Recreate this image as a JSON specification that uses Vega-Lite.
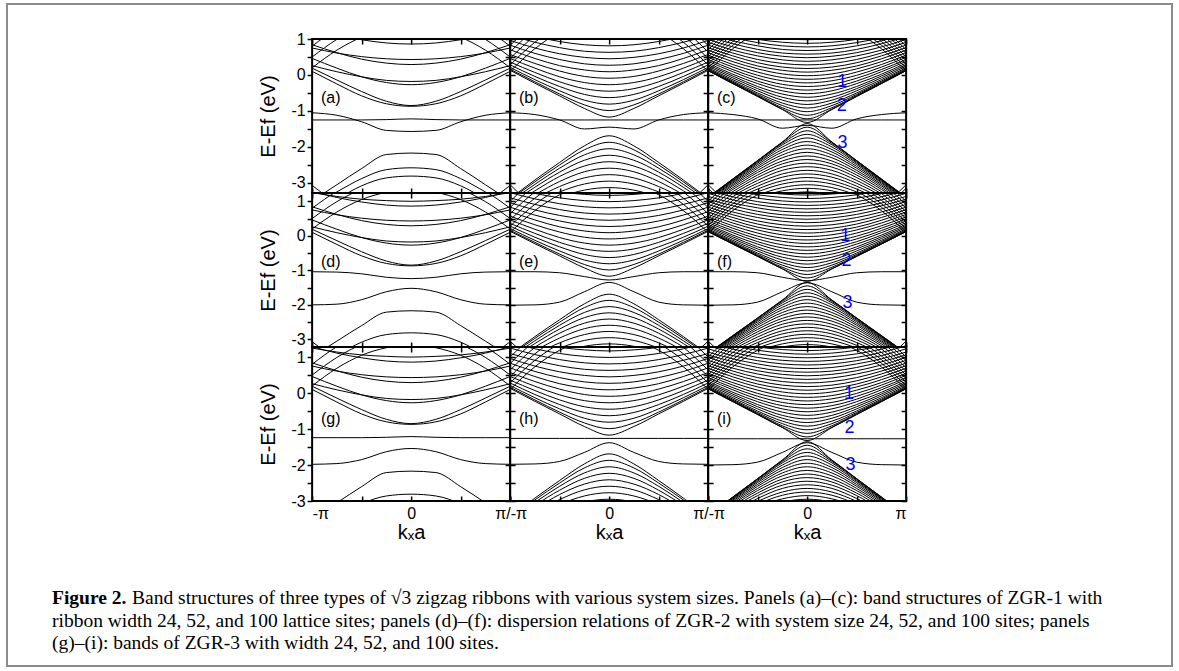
{
"$schema": "https://vega.github.io/schema/vega-lite/v6.json",
"background": "white",
"padding": {"left": 6, "top": 3, "right": 0, "bottom": 0},
"config": {
  "view": {"stroke": "black", "strokeWidth": 2},
  "axis": {"domain": false, "grid": false, "tickColor": "black", "tickWidth": 1.5, "labelFont": "Liberation Sans", "labelFontSize": 16, "labelColor": "black", "titleFont": "Liberation Sans", "titleFontSize": 20, "titleFontWeight": "normal", "titleColor": "black"}
},
"datasets": {
  "kg": [
    {"c": 1, "k": [-1, -0.75, -0.5, -0.25, 0, 0.25, 0.5, 0.75, 1]},
    {"c": 2, "k": [-1, -0.75, -0.5, -0.25, 0, 0.25, 0.5, 0.75, 1]},
    {"c": 3, "k": [-1, -0.75, -0.5, -0.25, 0, 0.25, 0.5, 0.75, 1]}
  ],
  "bands": [
    {"c":1,"i":101,"e":[0.19,-0.14,-0.46,-0.73,-0.85,-0.73,-0.46,-0.14,0.19]},
    {"c":1,"i":102,"e":[0.1,-0.25,-0.58,-0.8,-0.87,-0.8,-0.58,-0.25,0.1]},
    {"c":1,"i":103,"e":[0.46,0.19,-0.05,-0.21,-0.27,-0.21,-0.05,0.19,0.46]},
    {"c":1,"i":104,"e":[0.26,0.09,-0.05,-0.15,-0.18,-0.15,-0.05,0.09,0.26]},
    {"c":1,"i":105,"e":[0.84,0.62,0.44,0.33,0.29,0.33,0.44,0.62,0.84]},
    {"c":1,"i":106,"e":[0.75,0.61,0.51,0.45,0.43,0.45,0.51,0.61,0.75]},
    {"c":1,"i":107,"e":[1.29,1.11,0.98,0.89,0.86,0.89,0.98,1.11,1.29]},
    {"c":1,"i":108,"e":[1.25,1.14,1.06,1.02,1.0,1.02,1.06,1.14,1.25]},
    {"c":1,"i":111,"e":[0.2,0.69,1.05,1.26,1.33,1.26,1.05,0.69,0.2]},
    {"c":1,"i":112,"e":[0.5,0.99,1.35,1.56,1.63,1.56,1.35,0.99,0.5]},
    {"c":1,"i":113,"e":[0.8,1.29,1.65,1.86,1.93,1.86,1.65,1.29,0.8]},
    {"c":1,"i":121,"e":[-3.5,-3.05,-2.6,-2.21,-2.17,-2.21,-2.6,-3.05,-3.5]},
    {"c":1,"i":122,"e":[-3.85,-3.45,-3.08,-2.86,-2.81,-2.86,-3.08,-3.45,-3.85]},
    {"c":1,"i":131,"e":[-3.07,-3.56,-3.92,-4.13,-4.2,-4.13,-3.92,-3.56,-3.07]},
    {"c":1,"i":132,"e":[-3.32,-3.81,-4.17,-4.38,-4.45,-4.38,-4.17,-3.81,-3.32]},
    {"c":1,"r":1,"i":141,"e":[-3.65,-3.25,-2.88,-2.63,-2.58,-2.63,-2.88,-3.25,-3.65]},
    {"c":1,"r":1,"i":142,"e":[-1.25,-1.25,-1.25,-1.24,-1.22,-1.24,-1.25,-1.25,-1.25]},
    {"c":1,"r":1,"i":143,"e":[-1.05,-1.12,-1.3,-1.54,-1.57,-1.54,-1.3,-1.12,-1.05]},
    {"c":1,"r":2,"i":151,"e":[-1.04,-1.05,-1.1,-1.2,-1.24,-1.2,-1.1,-1.05,-1.04]},
    {"c":1,"r":2,"i":152,"e":[-2.0,-1.98,-1.85,-1.62,-1.52,-1.62,-1.85,-1.98,-2.0]},
    {"c":1,"r":3,"i":161,"e":[-1.24,-1.24,-1.24,-1.23,-1.21,-1.23,-1.24,-1.24,-1.24]},
    {"c":1,"r":3,"i":162,"e":[-1.98,-1.96,-1.85,-1.63,-1.54,-1.63,-1.85,-1.96,-1.98]},
    {"c":2,"i":201,"e":[0.13,-0.23,-0.58,-0.93,-1.17,-0.93,-0.58,-0.23,0.13]},
    {"c":2,"i":202,"e":[0.16,-0.19,-0.53,-0.83,-0.99,-0.83,-0.53,-0.19,0.16]},
    {"c":2,"i":203,"e":[0.21,-0.13,-0.44,-0.7,-0.81,-0.7,-0.44,-0.13,0.21]},
    {"c":2,"i":204,"e":[0.28,-0.04,-0.32,-0.54,-0.63,-0.54,-0.32,-0.04,0.28]},
    {"c":2,"i":205,"e":[0.36,0.07,-0.19,-0.38,-0.45,-0.38,-0.19,0.07,0.36]},
    {"c":2,"i":206,"e":[0.46,0.19,-0.05,-0.21,-0.27,-0.21,-0.05,0.19,0.46]},
    {"c":2,"i":207,"e":[0.57,0.32,0.11,-0.04,-0.09,-0.04,0.11,0.32,0.57]},
    {"c":2,"i":208,"e":[0.7,0.46,0.26,0.14,0.09,0.14,0.26,0.46,0.7]},
    {"c":2,"i":209,"e":[0.83,0.6,0.43,0.31,0.27,0.31,0.43,0.6,0.83]},
    {"c":2,"i":210,"e":[0.96,0.75,0.59,0.49,0.45,0.49,0.59,0.75,0.96]},
    {"c":2,"i":211,"e":[1.1,0.91,0.76,0.66,0.63,0.66,0.76,0.91,1.1]},
    {"c":2,"i":212,"e":[1.25,1.07,0.93,0.84,0.81,0.84,0.93,1.07,1.25]},
    {"c":2,"i":213,"e":[1.4,1.23,1.1,1.02,0.99,1.02,1.1,1.23,1.4]},
    {"c":2,"i":214,"e":[1.56,1.39,1.27,1.2,1.17,1.2,1.27,1.39,1.56]},
    {"c":2,"i":221,"e":[0.1,0.73,1.19,1.46,1.55,1.46,1.19,0.73,0.1]},
    {"c":2,"i":222,"e":[0.28,0.91,1.37,1.64,1.73,1.64,1.37,0.91,0.28]},
    {"c":2,"i":223,"e":[0.46,1.09,1.55,1.82,1.91,1.82,1.55,1.09,0.46]},
    {"c":2,"i":224,"e":[0.64,1.27,1.73,2.0,2.09,2.0,1.73,1.27,0.64]},
    {"c":2,"i":225,"e":[0.82,1.45,1.91,2.18,2.27,2.18,1.91,1.45,0.82]},
    {"c":2,"i":226,"e":[1.0,1.63,2.09,2.36,2.45,2.36,2.09,1.63,1.0]},
    {"c":2,"i":231,"e":[-3.43,-2.92,-2.43,-1.97,-1.69,-1.97,-2.43,-2.92,-3.43]},
    {"c":2,"i":232,"e":[-3.46,-2.97,-2.5,-2.08,-1.87,-2.08,-2.5,-2.97,-3.46]},
    {"c":2,"i":233,"e":[-3.52,-3.04,-2.59,-2.22,-2.05,-2.22,-2.59,-3.04,-3.52]},
    {"c":2,"i":234,"e":[-3.58,-3.12,-2.7,-2.37,-2.23,-2.37,-2.7,-3.12,-3.58]},
    {"c":2,"i":235,"e":[-3.66,-3.22,-2.82,-2.53,-2.41,-2.53,-2.82,-3.22,-3.66]},
    {"c":2,"i":236,"e":[-3.75,-3.33,-2.96,-2.69,-2.59,-2.69,-2.96,-3.33,-3.75]},
    {"c":2,"i":237,"e":[-3.84,-3.44,-3.1,-2.86,-2.77,-2.86,-3.1,-3.44,-3.84]},
    {"c":2,"i":238,"e":[-3.95,-3.57,-3.25,-3.03,-2.95,-3.03,-3.25,-3.57,-3.95]},
    {"c":2,"i":239,"e":[-4.07,-3.7,-3.4,-3.2,-3.13,-3.2,-3.4,-3.7,-4.07]},
    {"c":2,"i":241,"e":[-3.05,-3.68,-4.14,-4.41,-4.5,-4.41,-4.14,-3.68,-3.05]},
    {"c":2,"i":242,"e":[-3.23,-3.86,-4.32,-4.59,-4.68,-4.59,-4.32,-3.86,-3.23]},
    {"c":2,"r":1,"i":251,"e":[-1.25,-1.25,-1.25,-1.25,-1.25,-1.25,-1.25,-1.25,-1.25]},
    {"c":2,"r":1,"i":252,"e":[-1.05,-1.1,-1.25,-1.5,-1.45,-1.5,-1.25,-1.1,-1.05]},
    {"c":2,"r":2,"i":261,"e":[-1.04,-1.04,-1.07,-1.18,-1.28,-1.18,-1.07,-1.04,-1.04]},
    {"c":2,"r":2,"i":262,"e":[-2.01,-2.0,-1.92,-1.62,-1.35,-1.62,-1.92,-2.0,-2.01]},
    {"c":2,"r":3,"i":271,"e":[-1.26,-1.26,-1.26,-1.26,-1.26,-1.26,-1.26,-1.26,-1.26]},
    {"c":2,"r":3,"i":272,"e":[-1.98,-1.97,-1.9,-1.65,-1.38,-1.65,-1.9,-1.97,-1.98]},
    {"c":3,"i":301,"e":[0.12,-0.24,-0.6,-0.96,-1.32,-0.96,-0.6,-0.24,0.12]},
    {"c":3,"i":302,"e":[0.12,-0.24,-0.59,-0.95,-1.22,-0.95,-0.59,-0.24,0.12]},
    {"c":3,"i":303,"e":[0.13,-0.22,-0.57,-0.91,-1.12,-0.91,-0.57,-0.22,0.13]},
    {"c":3,"i":304,"e":[0.15,-0.2,-0.54,-0.85,-1.02,-0.85,-0.54,-0.2,0.15]},
    {"c":3,"i":305,"e":[0.17,-0.17,-0.5,-0.78,-0.92,-0.78,-0.5,-0.17,0.17]},
    {"c":3,"i":306,"e":[0.2,-0.13,-0.44,-0.7,-0.82,-0.7,-0.44,-0.13,0.2]},
    {"c":3,"i":307,"e":[0.24,-0.08,-0.38,-0.62,-0.72,-0.62,-0.38,-0.08,0.24]},
    {"c":3,"i":308,"e":[0.28,-0.03,-0.32,-0.53,-0.62,-0.53,-0.32,-0.03,0.28]},
    {"c":3,"i":309,"e":[0.33,0.02,-0.24,-0.44,-0.52,-0.44,-0.24,0.02,0.33]},
    {"c":3,"i":310,"e":[0.38,0.09,-0.17,-0.35,-0.42,-0.35,-0.17,0.09,0.38]},
    {"c":3,"i":311,"e":[0.43,0.15,-0.09,-0.26,-0.32,-0.26,-0.09,0.15,0.43]},
    {"c":3,"i":312,"e":[0.49,0.22,-0.01,-0.16,-0.22,-0.16,-0.01,0.22,0.49]},
    {"c":3,"i":313,"e":[0.55,0.29,0.08,-0.07,-0.12,-0.07,0.08,0.29,0.55]},
    {"c":3,"i":314,"e":[0.62,0.37,0.17,0.03,-0.02,0.03,0.17,0.37,0.62]},
    {"c":3,"i":315,"e":[0.69,0.45,0.25,0.13,0.08,0.13,0.25,0.45,0.69]},
    {"c":3,"i":316,"e":[0.76,0.53,0.34,0.22,0.18,0.22,0.34,0.53,0.76]},
    {"c":3,"i":317,"e":[0.83,0.61,0.43,0.32,0.28,0.32,0.43,0.61,0.83]},
    {"c":3,"i":318,"e":[0.91,0.69,0.53,0.42,0.38,0.42,0.53,0.69,0.91]},
    {"c":3,"i":319,"e":[0.99,0.78,0.62,0.52,0.48,0.52,0.62,0.78,0.99]},
    {"c":3,"i":320,"e":[1.06,0.87,0.71,0.61,0.58,0.61,0.71,0.87,1.06]},
    {"c":3,"i":321,"e":[1.14,0.95,0.81,0.71,0.68,0.71,0.81,0.95,1.14]},
    {"c":3,"i":322,"e":[1.23,1.04,0.9,0.81,0.78,0.81,0.9,1.04,1.23]},
    {"c":3,"i":323,"e":[1.31,1.13,0.99,0.91,0.88,0.91,0.99,1.13,1.31]},
    {"c":3,"i":324,"e":[1.39,1.22,1.09,1.01,0.98,1.01,1.09,1.22,1.39]},
    {"c":3,"i":325,"e":[1.48,1.31,1.19,1.11,1.08,1.11,1.19,1.31,1.48]},
    {"c":3,"i":326,"e":[1.57,1.4,1.28,1.21,1.18,1.21,1.28,1.4,1.57]},
    {"c":3,"i":331,"e":[0.1,0.73,1.19,1.46,1.55,1.46,1.19,0.73,0.1]},
    {"c":3,"i":332,"e":[0.2,0.83,1.29,1.56,1.65,1.56,1.29,0.83,0.2]},
    {"c":3,"i":333,"e":[0.3,0.93,1.39,1.66,1.75,1.66,1.39,0.93,0.3]},
    {"c":3,"i":334,"e":[0.4,1.03,1.49,1.76,1.85,1.76,1.49,1.03,0.4]},
    {"c":3,"i":335,"e":[0.5,1.13,1.59,1.86,1.95,1.86,1.59,1.13,0.5]},
    {"c":3,"i":336,"e":[0.6,1.23,1.69,1.96,2.05,1.96,1.69,1.23,0.6]},
    {"c":3,"i":337,"e":[0.7,1.33,1.79,2.06,2.15,2.06,1.79,1.33,0.7]},
    {"c":3,"i":338,"e":[0.8,1.43,1.89,2.16,2.25,2.16,1.89,1.43,0.8]},
    {"c":3,"i":339,"e":[0.9,1.53,1.99,2.26,2.35,2.26,1.99,1.53,0.9]},
    {"c":3,"i":340,"e":[1.0,1.63,2.09,2.36,2.45,2.36,2.09,1.63,1.0]},
    {"c":3,"i":351,"e":[-3.4,-2.89,-2.38,-1.86,-1.35,-1.86,-2.38,-2.89,-3.4]},
    {"c":3,"i":352,"e":[-3.4,-2.89,-2.38,-1.87,-1.45,-1.87,-2.38,-2.89,-3.4]},
    {"c":3,"i":353,"e":[-3.41,-2.9,-2.39,-1.9,-1.55,-1.9,-2.39,-2.9,-3.41]},
    {"c":3,"i":354,"e":[-3.42,-2.92,-2.42,-1.94,-1.65,-1.94,-2.42,-2.92,-3.42]},
    {"c":3,"i":355,"e":[-3.44,-2.94,-2.45,-2.0,-1.75,-2.0,-2.45,-2.94,-3.44]},
    {"c":3,"i":356,"e":[-3.46,-2.97,-2.49,-2.07,-1.85,-2.07,-2.49,-2.97,-3.46]},
    {"c":3,"i":357,"e":[-3.49,-3.0,-2.54,-2.14,-1.95,-2.14,-2.54,-3.0,-3.49]},
    {"c":3,"i":358,"e":[-3.52,-3.04,-2.59,-2.22,-2.05,-2.22,-2.59,-3.04,-3.52]},
    {"c":3,"i":359,"e":[-3.55,-3.08,-2.65,-2.3,-2.15,-2.3,-2.65,-3.08,-3.55]},
    {"c":3,"i":360,"e":[-3.59,-3.13,-2.71,-2.39,-2.25,-2.39,-2.71,-3.13,-3.59]},
    {"c":3,"i":361,"e":[-3.63,-3.18,-2.78,-2.47,-2.35,-2.47,-2.78,-3.18,-3.63]},
    {"c":3,"i":362,"e":[-3.68,-3.24,-2.85,-2.56,-2.45,-2.56,-2.85,-3.24,-3.68]},
    {"c":3,"i":363,"e":[-3.73,-3.3,-2.93,-2.65,-2.55,-2.65,-2.93,-3.3,-3.73]},
    {"c":3,"i":364,"e":[-3.78,-3.36,-3.01,-2.75,-2.65,-2.75,-3.01,-3.36,-3.78]},
    {"c":3,"i":365,"e":[-3.83,-3.43,-3.09,-2.84,-2.75,-2.84,-3.09,-3.43,-3.83]},
    {"c":3,"i":366,"e":[-3.89,-3.5,-3.17,-2.94,-2.85,-2.94,-3.17,-3.5,-3.89]},
    {"c":3,"i":367,"e":[-3.95,-3.57,-3.25,-3.03,-2.95,-3.03,-3.25,-3.57,-3.95]},
    {"c":3,"i":368,"e":[-4.01,-3.64,-3.34,-3.13,-3.05,-3.13,-3.34,-3.64,-4.01]},
    {"c":3,"i":369,"e":[-4.08,-3.72,-3.42,-3.22,-3.15,-3.22,-3.42,-3.72,-4.08]},
    {"c":3,"i":370,"e":[-4.15,-3.79,-3.51,-3.32,-3.25,-3.32,-3.51,-3.79,-4.15]},
    {"c":3,"i":371,"e":[-3.05,-3.68,-4.14,-4.41,-4.5,-4.41,-4.14,-3.68,-3.05]},
    {"c":3,"i":372,"e":[-3.15,-3.78,-4.24,-4.51,-4.6,-4.51,-4.24,-3.78,-3.15]},
    {"c":3,"i":373,"e":[-3.25,-3.88,-4.34,-4.61,-4.7,-4.61,-4.34,-3.88,-3.25]},
    {"c":3,"r":1,"i":381,"e":[-1.25,-1.25,-1.25,-1.25,-1.25,-1.25,-1.25,-1.25,-1.25]},
    {"c":3,"r":1,"i":382,"e":[-1.05,-1.1,-1.22,-1.48,-1.4,-1.48,-1.22,-1.1,-1.05]},
    {"c":3,"r":2,"i":391,"e":[-1.04,-1.04,-1.07,-1.2,-1.3,-1.2,-1.07,-1.04,-1.04]},
    {"c":3,"r":2,"i":392,"e":[-2.01,-2.0,-1.92,-1.62,-1.36,-1.62,-1.92,-2.0,-2.01]},
    {"c":3,"r":3,"i":395,"e":[-1.27,-1.27,-1.27,-1.27,-1.27,-1.27,-1.27,-1.27,-1.27]},
    {"c":3,"r":3,"i":396,"e":[-2.0,-1.99,-1.92,-1.65,-1.38,-1.65,-1.92,-1.99,-2.0]}
  ]
},
"spacing": 0,
"vconcat": [
 {"width": 1167, "height": 2, "view": {"stroke": null, "fill": "#8c8c8c"}, "data": {"values": []}, "mark": {"type": "text"}, "encoding": {"text": {"value": ""}}},
 {"spacing": 44, "hconcat": [
  {"width": 2, "height": 660, "view": {"stroke": null, "fill": "#8c8c8c"}, "data": {"values": []}, "mark": {"type": "text"}, "encoding": {"text": {"value": ""}}},
  {"spacing": 0, "center": true, "vconcat": [
   {"width": 10, "height": 25, "view": {"stroke": null}, "data": {"values": []}, "mark": {"type": "text"}, "encoding": {"text": {"value": ""}}},
   {"columns": 4, "spacing": 0, "bounds": "flush", "concat": [
    {"width": 41, "height": 154, "view": {"stroke": null}, "data": {"values": []}, "mark": {"type": "text"}, "encoding": {"text": {"value": ""}}},
    {"width": 198, "height": 154, "resolve": {"axis": {"x": "independent", "y": "independent"}}, "layer": [
      {"data": {"name": "bands"}, "transform": [{"filter": "datum.c == 1 && (datum.r == null || datum.r == 1)"}, {"lookup": "c", "from": {"data": {"name": "kg"}, "key": "c", "fields": ["k"]}}, {"flatten": ["k", "e"]}],
       "mark": {"type": "line", "interpolate": "monotone", "clip": true, "color": "black", "strokeWidth": 1},
       "encoding": {"x": {"field": "k", "type": "quantitative", "scale": {"domain": [-1, 1], "nice": false, "zero": false}, "axis": {"orient": "bottom", "values": [-1, -0.5, 0, 0.5, 1], "tickSize": -5, "labels": false, "title": null, "minExtent": 0, "maxExtent": 0}},
                    "y": {"field": "e", "type": "quantitative", "scale": {"domain": [-3.28, 1], "nice": false, "zero": false}, "axis": {"orient": "left", "values": [-3, -2.5, -2, -1.5, -1, -0.5, 0, 0.5, 1], "tickSize": 5, "labelPadding": 2, "labelOverlap": false, "labelExpr": "datum.value % 1 == 0 ? '' + datum.value : ''", "title": "E-Ef (eV)", "titlePadding": 12}},
                    "detail": {"field": "i", "type": "nominal"}}},
      {"data": {"values": [{}]}, "mark": {"type": "text", "align": "left", "baseline": "middle", "fontSize": 16, "font": "Liberation Sans", "color": "black"},
       "encoding": {"x": {"datum": -0.91, "type": "quantitative", "scale": {"domain": [-1, 1], "nice": false, "zero": false}, "axis": {"orient": "top", "values": [-1, -0.5, 0, 0.5, 1], "tickSize": -5, "labels": false, "title": null, "minExtent": 0, "maxExtent": 0}},
                    "y": {"datum": -0.64, "type": "quantitative", "scale": {"domain": [-3.28, 1], "nice": false, "zero": false}, "axis": {"orient": "right", "values": [-3, -2.5, -2, -1.5, -1, -0.5, 0, 0.5, 1], "tickSize": -5, "labels": false, "title": null, "minExtent": 0, "maxExtent": 0}},
                    "text": {"value": "(a)"}}}
    ]},
    {"width": 198, "height": 154, "resolve": {"axis": {"x": "independent", "y": "independent"}}, "layer": [
      {"data": {"name": "bands"}, "transform": [{"filter": "datum.c == 2 && (datum.r == null || datum.r == 1)"}, {"lookup": "c", "from": {"data": {"name": "kg"}, "key": "c", "fields": ["k"]}}, {"flatten": ["k", "e"]}],
       "mark": {"type": "line", "interpolate": "monotone", "clip": true, "color": "black", "strokeWidth": 1},
       "encoding": {"x": {"field": "k", "type": "quantitative", "scale": {"domain": [-1, 1], "nice": false, "zero": false}, "axis": {"orient": "bottom", "values": [-1, -0.5, 0, 0.5, 1], "tickSize": -5, "labels": false, "title": null, "minExtent": 0, "maxExtent": 0}},
                    "y": {"field": "e", "type": "quantitative", "scale": {"domain": [-3.28, 1], "nice": false, "zero": false}, "axis": {"orient": "left", "values": [-3, -2.5, -2, -1.5, -1, -0.5, 0, 0.5, 1], "tickSize": -5, "labels": false, "title": null, "minExtent": 0, "maxExtent": 0}},
                    "detail": {"field": "i", "type": "nominal"}}},
      {"data": {"values": [{}]}, "mark": {"type": "text", "align": "left", "baseline": "middle", "fontSize": 16, "font": "Liberation Sans", "color": "black"},
       "encoding": {"x": {"datum": -0.91, "type": "quantitative", "scale": {"domain": [-1, 1], "nice": false, "zero": false}, "axis": {"orient": "top", "values": [-1, -0.5, 0, 0.5, 1], "tickSize": -5, "labels": false, "title": null, "minExtent": 0, "maxExtent": 0}},
                    "y": {"datum": -0.64, "type": "quantitative", "scale": {"domain": [-3.28, 1], "nice": false, "zero": false}, "axis": {"orient": "right", "values": [-3, -2.5, -2, -1.5, -1, -0.5, 0, 0.5, 1], "tickSize": -5, "labels": false, "title": null, "minExtent": 0, "maxExtent": 0}},
                    "text": {"value": "(b)"}}}
    ]},
    {"width": 198, "height": 154, "resolve": {"axis": {"x": "independent", "y": "independent"}}, "layer": [
      {"data": {"name": "bands"}, "transform": [{"filter": "datum.c == 3 && (datum.r == null || datum.r == 1)"}, {"lookup": "c", "from": {"data": {"name": "kg"}, "key": "c", "fields": ["k"]}}, {"flatten": ["k", "e"]}],
       "mark": {"type": "line", "interpolate": "monotone", "clip": true, "color": "black", "strokeWidth": 1},
       "encoding": {"x": {"field": "k", "type": "quantitative", "scale": {"domain": [-1, 1], "nice": false, "zero": false}, "axis": {"orient": "bottom", "values": [-1, -0.5, 0, 0.5, 1], "tickSize": -5, "labels": false, "title": null, "minExtent": 0, "maxExtent": 0}},
                    "y": {"field": "e", "type": "quantitative", "scale": {"domain": [-3.28, 1], "nice": false, "zero": false}, "axis": {"orient": "left", "values": [-3, -2.5, -2, -1.5, -1, -0.5, 0, 0.5, 1], "tickSize": -5, "labels": false, "title": null, "minExtent": 0, "maxExtent": 0}},
                    "detail": {"field": "i", "type": "nominal"}}},
      {"data": {"values": [{}]}, "mark": {"type": "text", "align": "left", "baseline": "middle", "fontSize": 16, "font": "Liberation Sans", "color": "black"},
       "encoding": {"x": {"datum": -0.91, "type": "quantitative", "scale": {"domain": [-1, 1], "nice": false, "zero": false}, "axis": {"orient": "top", "values": [-1, -0.5, 0, 0.5, 1], "tickSize": -5, "labels": false, "title": null, "minExtent": 0, "maxExtent": 0}},
                    "y": {"datum": -0.64, "type": "quantitative", "scale": {"domain": [-3.28, 1], "nice": false, "zero": false}, "axis": {"orient": "right", "values": [-3, -2.5, -2, -1.5, -1, -0.5, 0, 0.5, 1], "tickSize": -5, "labels": false, "title": null, "minExtent": 0, "maxExtent": 0}},
                    "text": {"value": "(c)"}}},
      {"data": {"values": [{"t": "1", "k": 0.354, "E": -0.19}, {"t": "2", "k": 0.35, "E": -0.87}, {"t": "3", "k": 0.357, "E": -1.89}]},
       "mark": {"type": "text", "align": "center", "baseline": "middle", "fontSize": 18, "font": "Liberation Sans", "color": "#0000ff"},
       "encoding": {"x": {"field": "k", "type": "quantitative", "scale": {"domain": [-1, 1], "nice": false, "zero": false}, "axis": null},
                    "y": {"field": "E", "type": "quantitative", "scale": {"domain": [-3.28, 1], "nice": false, "zero": false}, "axis": null},
                    "text": {"field": "t"}}}
    ]},
    {"width": 41, "height": 154, "view": {"stroke": null}, "data": {"values": []}, "mark": {"type": "text"}, "encoding": {"text": {"value": ""}}},
    {"width": 198, "height": 154, "resolve": {"axis": {"x": "independent", "y": "independent"}}, "layer": [
      {"data": {"name": "bands"}, "transform": [{"filter": "datum.c == 1 && (datum.r == null || datum.r == 2)"}, {"lookup": "c", "from": {"data": {"name": "kg"}, "key": "c", "fields": ["k"]}}, {"flatten": ["k", "e"]}],
       "mark": {"type": "line", "interpolate": "monotone", "clip": true, "color": "black", "strokeWidth": 1},
       "encoding": {"x": {"field": "k", "type": "quantitative", "scale": {"domain": [-1, 1], "nice": false, "zero": false}, "axis": {"orient": "bottom", "values": [-1, -0.5, 0, 0.5, 1], "tickSize": -5, "labels": false, "title": null, "minExtent": 0, "maxExtent": 0}},
                    "y": {"field": "e", "type": "quantitative", "scale": {"domain": [-3.22, 1.24], "nice": false, "zero": false}, "axis": {"orient": "left", "values": [-3, -2.5, -2, -1.5, -1, -0.5, 0, 0.5, 1], "tickSize": 5, "labelPadding": 2, "labelOverlap": false, "labelExpr": "datum.value % 1 == 0 ? '' + datum.value : ''", "title": "E-Ef (eV)", "titlePadding": 12}},
                    "detail": {"field": "i", "type": "nominal"}}},
      {"data": {"values": [{}]}, "mark": {"type": "text", "align": "left", "baseline": "middle", "fontSize": 16, "font": "Liberation Sans", "color": "black"},
       "encoding": {"x": {"datum": -0.91, "type": "quantitative", "scale": {"domain": [-1, 1], "nice": false, "zero": false}, "axis": {"orient": "top", "values": [-1, -0.5, 0, 0.5, 1], "tickSize": -5, "labels": false, "title": null, "minExtent": 0, "maxExtent": 0}},
                    "y": {"datum": -0.75, "type": "quantitative", "scale": {"domain": [-3.22, 1.24], "nice": false, "zero": false}, "axis": {"orient": "right", "values": [-3, -2.5, -2, -1.5, -1, -0.5, 0, 0.5, 1], "tickSize": -5, "labels": false, "title": null, "minExtent": 0, "maxExtent": 0}},
                    "text": {"value": "(d)"}}}
    ]},
    {"width": 198, "height": 154, "resolve": {"axis": {"x": "independent", "y": "independent"}}, "layer": [
      {"data": {"name": "bands"}, "transform": [{"filter": "datum.c == 2 && (datum.r == null || datum.r == 2)"}, {"lookup": "c", "from": {"data": {"name": "kg"}, "key": "c", "fields": ["k"]}}, {"flatten": ["k", "e"]}],
       "mark": {"type": "line", "interpolate": "monotone", "clip": true, "color": "black", "strokeWidth": 1},
       "encoding": {"x": {"field": "k", "type": "quantitative", "scale": {"domain": [-1, 1], "nice": false, "zero": false}, "axis": {"orient": "bottom", "values": [-1, -0.5, 0, 0.5, 1], "tickSize": -5, "labels": false, "title": null, "minExtent": 0, "maxExtent": 0}},
                    "y": {"field": "e", "type": "quantitative", "scale": {"domain": [-3.22, 1.24], "nice": false, "zero": false}, "axis": {"orient": "left", "values": [-3, -2.5, -2, -1.5, -1, -0.5, 0, 0.5, 1], "tickSize": -5, "labels": false, "title": null, "minExtent": 0, "maxExtent": 0}},
                    "detail": {"field": "i", "type": "nominal"}}},
      {"data": {"values": [{}]}, "mark": {"type": "text", "align": "left", "baseline": "middle", "fontSize": 16, "font": "Liberation Sans", "color": "black"},
       "encoding": {"x": {"datum": -0.91, "type": "quantitative", "scale": {"domain": [-1, 1], "nice": false, "zero": false}, "axis": {"orient": "top", "values": [-1, -0.5, 0, 0.5, 1], "tickSize": -5, "labels": false, "title": null, "minExtent": 0, "maxExtent": 0}},
                    "y": {"datum": -0.75, "type": "quantitative", "scale": {"domain": [-3.22, 1.24], "nice": false, "zero": false}, "axis": {"orient": "right", "values": [-3, -2.5, -2, -1.5, -1, -0.5, 0, 0.5, 1], "tickSize": -5, "labels": false, "title": null, "minExtent": 0, "maxExtent": 0}},
                    "text": {"value": "(e)"}}}
    ]},
    {"width": 198, "height": 154, "resolve": {"axis": {"x": "independent", "y": "independent"}}, "layer": [
      {"data": {"name": "bands"}, "transform": [{"filter": "datum.c == 3 && (datum.r == null || datum.r == 2)"}, {"lookup": "c", "from": {"data": {"name": "kg"}, "key": "c", "fields": ["k"]}}, {"flatten": ["k", "e"]}],
       "mark": {"type": "line", "interpolate": "monotone", "clip": true, "color": "black", "strokeWidth": 1},
       "encoding": {"x": {"field": "k", "type": "quantitative", "scale": {"domain": [-1, 1], "nice": false, "zero": false}, "axis": {"orient": "bottom", "values": [-1, -0.5, 0, 0.5, 1], "tickSize": -5, "labels": false, "title": null, "minExtent": 0, "maxExtent": 0}},
                    "y": {"field": "e", "type": "quantitative", "scale": {"domain": [-3.22, 1.24], "nice": false, "zero": false}, "axis": {"orient": "left", "values": [-3, -2.5, -2, -1.5, -1, -0.5, 0, 0.5, 1], "tickSize": -5, "labels": false, "title": null, "minExtent": 0, "maxExtent": 0}},
                    "detail": {"field": "i", "type": "nominal"}}},
      {"data": {"values": [{}]}, "mark": {"type": "text", "align": "left", "baseline": "middle", "fontSize": 16, "font": "Liberation Sans", "color": "black"},
       "encoding": {"x": {"datum": -0.91, "type": "quantitative", "scale": {"domain": [-1, 1], "nice": false, "zero": false}, "axis": {"orient": "top", "values": [-1, -0.5, 0, 0.5, 1], "tickSize": -5, "labels": false, "title": null, "minExtent": 0, "maxExtent": 0}},
                    "y": {"datum": -0.75, "type": "quantitative", "scale": {"domain": [-3.22, 1.24], "nice": false, "zero": false}, "axis": {"orient": "right", "values": [-3, -2.5, -2, -1.5, -1, -0.5, 0, 0.5, 1], "tickSize": -5, "labels": false, "title": null, "minExtent": 0, "maxExtent": 0}},
                    "text": {"value": "(f)"}}},
      {"data": {"values": [{"t": "1", "k": 0.384, "E": 0.0}, {"t": "2", "k": 0.397, "E": -0.72}, {"t": "3", "k": 0.407, "E": -1.94}]},
       "mark": {"type": "text", "align": "center", "baseline": "middle", "fontSize": 18, "font": "Liberation Sans", "color": "#0000ff"},
       "encoding": {"x": {"field": "k", "type": "quantitative", "scale": {"domain": [-1, 1], "nice": false, "zero": false}, "axis": null},
                    "y": {"field": "E", "type": "quantitative", "scale": {"domain": [-3.22, 1.24], "nice": false, "zero": false}, "axis": null},
                    "text": {"field": "t"}}}
    ]},
    {"width": 41, "height": 154, "view": {"stroke": null}, "data": {"values": []}, "mark": {"type": "text"}, "encoding": {"text": {"value": ""}}},
    {"width": 198, "height": 154, "resolve": {"axis": {"x": "independent", "y": "independent"}}, "layer": [
      {"data": {"name": "bands"}, "transform": [{"filter": "datum.c == 1 && (datum.r == null || datum.r == 3)"}, {"lookup": "c", "from": {"data": {"name": "kg"}, "key": "c", "fields": ["k"]}}, {"flatten": ["k", "e"]}],
       "mark": {"type": "line", "interpolate": "monotone", "clip": true, "color": "black", "strokeWidth": 1},
       "encoding": {"x": {"field": "k", "type": "quantitative", "scale": {"domain": [-1, 1], "nice": false, "zero": false}, "axis": {"orient": "bottom", "values": [-1, -0.5, 0, 0.5, 1], "tickSize": -5, "labelPadding": 9, "labelFlush": true, "labelOverlap": false, "labelExpr": "datum.value == -1 ? '-π' : datum.value == 0 ? '0' : datum.value == 1 ? 'π/' : ''", "title": "kₓa", "titlePadding": 1}},
                    "y": {"field": "e", "type": "quantitative", "scale": {"domain": [-3.0, 1.28], "nice": false, "zero": false}, "axis": {"orient": "left", "values": [-3, -2.5, -2, -1.5, -1, -0.5, 0, 0.5, 1], "tickSize": 5, "labelPadding": 2, "labelOverlap": false, "labelExpr": "datum.value % 1 == 0 ? '' + datum.value : ''", "title": "E-Ef (eV)", "titlePadding": 12}},
                    "detail": {"field": "i", "type": "nominal"}}},
      {"data": {"values": [{}]}, "mark": {"type": "text", "align": "left", "baseline": "middle", "fontSize": 16, "font": "Liberation Sans", "color": "black"},
       "encoding": {"x": {"datum": -0.91, "type": "quantitative", "scale": {"domain": [-1, 1], "nice": false, "zero": false}, "axis": {"orient": "top", "values": [-1, -0.5, 0, 0.5, 1], "tickSize": -5, "labels": false, "title": null, "minExtent": 0, "maxExtent": 0}},
                    "y": {"datum": -0.71, "type": "quantitative", "scale": {"domain": [-3.0, 1.28], "nice": false, "zero": false}, "axis": {"orient": "right", "values": [-3, -2.5, -2, -1.5, -1, -0.5, 0, 0.5, 1], "tickSize": -5, "labels": false, "title": null, "minExtent": 0, "maxExtent": 0}},
                    "text": {"value": "(g)"}}}
    ]},
    {"width": 198, "height": 154, "resolve": {"axis": {"x": "independent", "y": "independent"}}, "layer": [
      {"data": {"name": "bands"}, "transform": [{"filter": "datum.c == 2 && (datum.r == null || datum.r == 3)"}, {"lookup": "c", "from": {"data": {"name": "kg"}, "key": "c", "fields": ["k"]}}, {"flatten": ["k", "e"]}],
       "mark": {"type": "line", "interpolate": "monotone", "clip": true, "color": "black", "strokeWidth": 1},
       "encoding": {"x": {"field": "k", "type": "quantitative", "scale": {"domain": [-1, 1], "nice": false, "zero": false}, "axis": {"orient": "bottom", "values": [-1, -0.5, 0, 0.5, 1], "tickSize": -5, "labelPadding": 9, "labelFlush": true, "labelOverlap": false, "labelExpr": "datum.value == -1 ? '-π' : datum.value == 0 ? '0' : datum.value == 1 ? 'π/' : ''", "title": "kₓa", "titlePadding": 1}},
                    "y": {"field": "e", "type": "quantitative", "scale": {"domain": [-3.0, 1.28], "nice": false, "zero": false}, "axis": {"orient": "left", "values": [-3, -2.5, -2, -1.5, -1, -0.5, 0, 0.5, 1], "tickSize": -5, "labels": false, "title": null, "minExtent": 0, "maxExtent": 0}},
                    "detail": {"field": "i", "type": "nominal"}}},
      {"data": {"values": [{}]}, "mark": {"type": "text", "align": "left", "baseline": "middle", "fontSize": 16, "font": "Liberation Sans", "color": "black"},
       "encoding": {"x": {"datum": -0.91, "type": "quantitative", "scale": {"domain": [-1, 1], "nice": false, "zero": false}, "axis": {"orient": "top", "values": [-1, -0.5, 0, 0.5, 1], "tickSize": -5, "labels": false, "title": null, "minExtent": 0, "maxExtent": 0}},
                    "y": {"datum": -0.71, "type": "quantitative", "scale": {"domain": [-3.0, 1.28], "nice": false, "zero": false}, "axis": {"orient": "right", "values": [-3, -2.5, -2, -1.5, -1, -0.5, 0, 0.5, 1], "tickSize": -5, "labels": false, "title": null, "minExtent": 0, "maxExtent": 0}},
                    "text": {"value": "(h)"}}}
    ]},
    {"width": 198, "height": 154, "resolve": {"axis": {"x": "independent", "y": "independent"}}, "layer": [
      {"data": {"name": "bands"}, "transform": [{"filter": "datum.c == 3 && (datum.r == null || datum.r == 3)"}, {"lookup": "c", "from": {"data": {"name": "kg"}, "key": "c", "fields": ["k"]}}, {"flatten": ["k", "e"]}],
       "mark": {"type": "line", "interpolate": "monotone", "clip": true, "color": "black", "strokeWidth": 1},
       "encoding": {"x": {"field": "k", "type": "quantitative", "scale": {"domain": [-1, 1], "nice": false, "zero": false}, "axis": {"orient": "bottom", "values": [-1, -0.5, 0, 0.5, 1], "tickSize": -5, "labelPadding": 9, "labelFlush": true, "labelOverlap": false, "labelExpr": "datum.value == -1 ? '-π' : datum.value == 0 ? '0' : datum.value == 1 ? 'π' : ''", "title": "kₓa", "titlePadding": 1}},
                    "y": {"field": "e", "type": "quantitative", "scale": {"domain": [-3.0, 1.28], "nice": false, "zero": false}, "axis": {"orient": "left", "values": [-3, -2.5, -2, -1.5, -1, -0.5, 0, 0.5, 1], "tickSize": -5, "labels": false, "title": null, "minExtent": 0, "maxExtent": 0}},
                    "detail": {"field": "i", "type": "nominal"}}},
      {"data": {"values": [{}]}, "mark": {"type": "text", "align": "left", "baseline": "middle", "fontSize": 16, "font": "Liberation Sans", "color": "black"},
       "encoding": {"x": {"datum": -0.91, "type": "quantitative", "scale": {"domain": [-1, 1], "nice": false, "zero": false}, "axis": {"orient": "top", "values": [-1, -0.5, 0, 0.5, 1], "tickSize": -5, "labels": false, "title": null, "minExtent": 0, "maxExtent": 0}},
                    "y": {"datum": -0.71, "type": "quantitative", "scale": {"domain": [-3.0, 1.28], "nice": false, "zero": false}, "axis": {"orient": "right", "values": [-3, -2.5, -2, -1.5, -1, -0.5, 0, 0.5, 1], "tickSize": -5, "labels": false, "title": null, "minExtent": 0, "maxExtent": 0}},
                    "text": {"value": "(i)"}}},
      {"data": {"values": [{"t": "1", "k": 0.424, "E": -0.02}, {"t": "2", "k": 0.427, "E": -0.96}, {"t": "3", "k": 0.437, "E": -2.0}]},
       "mark": {"type": "text", "align": "center", "baseline": "middle", "fontSize": 18, "font": "Liberation Sans", "color": "#0000ff"},
       "encoding": {"x": {"field": "k", "type": "quantitative", "scale": {"domain": [-1, 1], "nice": false, "zero": false}, "axis": null},
                    "y": {"field": "E", "type": "quantitative", "scale": {"domain": [-3.0, 1.28], "nice": false, "zero": false}, "axis": null},
                    "text": {"field": "t"}}}
    ]}
   ]},
   {"width": 10, "height": 45, "view": {"stroke": null}, "data": {"values": []}, "mark": {"type": "text"}, "encoding": {"text": {"value": ""}}},
   {"width": 1075, "height": 45, "view": {"stroke": null},
    "data": {"values": [
      {"l": 1, "t": "Band structures of three types of √3 zigzag ribbons with various system sizes. Panels (a)–(c): band structures of ZGR-1 with"},
      {"l": 2, "t": "ribbon width 24, 52, and 100 lattice sites; panels (d)–(f): dispersion relations of ZGR-2 with system size 24, 52, and 100 sites; panels"},
      {"l": 3, "t": "(g)–(i): bands of ZGR-3 with width 24, 52, and 100 sites."}
    ]},
    "encoding": {"x": {"datum": 0, "type": "quantitative", "scale": {"domain": [0, 1]}, "axis": null},
                 "y": {"field": "l", "type": "ordinal", "scale": {"type": "point", "padding": 0}, "axis": null}},
    "layer": [
      {"transform": [{"filter": "datum.l == 1"}], "mark": {"type": "text", "align": "left", "baseline": "middle", "font": "Liberation Serif", "fontSize": 19.5, "fontWeight": "bold", "color": "black"}, "encoding": {"text": {"value": "Figure 2."}}},
      {"transform": [{"filter": "datum.l == 1"}], "mark": {"type": "text", "align": "left", "baseline": "middle", "font": "Liberation Serif", "fontSize": 19.5, "color": "black", "dx": 80}, "encoding": {"text": {"field": "t"}}},
      {"transform": [{"filter": "datum.l > 1"}], "mark": {"type": "text", "align": "left", "baseline": "middle", "font": "Liberation Serif", "fontSize": 19.5, "color": "black"}, "encoding": {"text": {"field": "t"}}}
    ]}
  ]},
  {"width": 2, "height": 660, "view": {"stroke": null, "fill": "#8c8c8c"}, "data": {"values": []}, "mark": {"type": "text"}, "encoding": {"text": {"value": ""}}}
 ]},
 {"width": 1167, "height": 2, "view": {"stroke": null, "fill": "#8c8c8c"}, "data": {"values": []}, "mark": {"type": "text"}, "encoding": {"text": {"value": ""}}}
]
}
